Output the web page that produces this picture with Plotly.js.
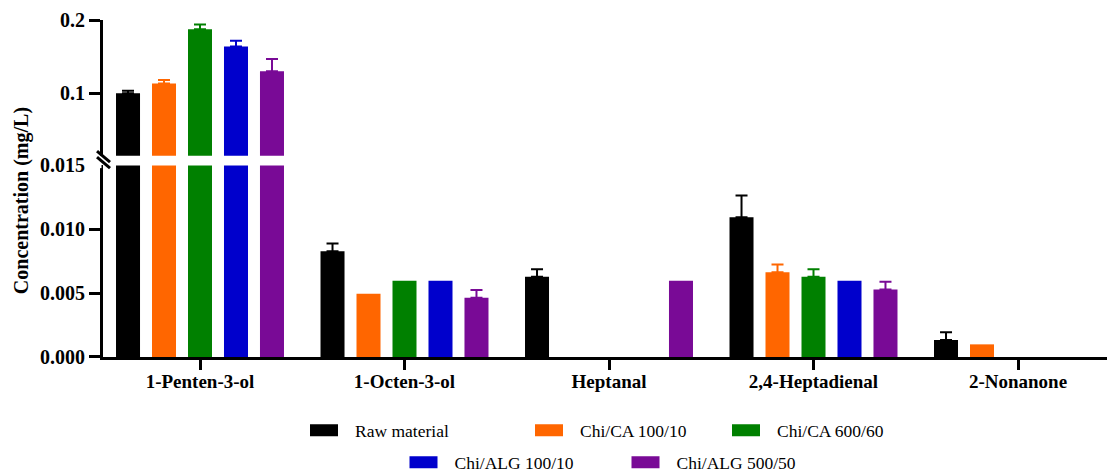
<!DOCTYPE html>
<html>
<head>
<meta charset="utf-8">
<script src="https://cdn.plot.ly/plotly-3.0.1.min.js"></script>
<style>html,body{margin:0;padding:0;background:#fff;}#chart{width:1107px;height:470px;}</style>
</head>
<body>
<div id="chart"></div>
<script>
// ---- data ----
const categories = ['1-Penten-3-ol', '1-Octen-3-ol', 'Heptanal', '2,4-Heptadienal', '2-Nonanone'];
const seriesNames = ['Raw material', 'Chi/CA 100/10', 'Chi/CA 600/60', 'Chi/ALG 100/10', 'Chi/ALG 500/50'];
const rawMaterial = [0.100, 0.00828, 0.00628, 0.01094, 0.00133];
const rawMaterialErr = [0.0036, 0.0006, 0.0006, 0.0017, 0.0006];
const chiCA100 = [0.1136, 0.00495, 0, 0.00664, 0.00099];
const chiCA100Err = [0.0045, null, null, 0.0006, null];
const chiCA600 = [0.1873, 0.00597, 0, 0.00628, 0];
const chiCA600Err = [0.0064, null, null, 0.0006, null];
const chiALG100 = [0.164, 0.00597, 0, 0.00597, 0];
const chiALG100Err = [0.0077, null, null, null, null];
const chiALG500 = [0.130, 0.00464, 0.00597, 0.00529, 0];
const chiALG500Err = [0.0168, 0.0006, null, 0.0006, null];
const lowerTicks = [0, 0.005, 0.010, 0.015];
const upperTicks = [0.1, 0.2];

// ---- style ----
const colors = ['#000000', '#FF6600', '#008000', '#0000CC', '#790A96'];
const values = [rawMaterial, chiCA100, chiCA600, chiALG100, chiALG500];
const errors = [rawMaterialErr, chiCA100Err, chiCA600Err, chiALG100Err, chiALG500Err];
const FONT = 'Liberation Serif, Times New Roman, serif';

// pixel -> paper helpers (plot area 103..1107 x, 20..356.7 y)
const L = 103, R = 1107, T = 20, B = 356.7;
const fx = p => (p - L) / (R - L);
const fy = p => (B - p) / (B - T);

const traces = [];
values.forEach((v, i) => {
  const up = errors[i].map(e => (e == null ? NaN : e));
  const down = errors[i].map(e => (e == null ? NaN : 0));
  ['y', 'y2'].forEach((ax, k) => {
    traces.push({
      type: 'bar',
      x: categories,
      y: v,
      xaxis: 'x',
      yaxis: ax,
      name: seriesNames[i],
      legend: i === 0 ? 'legend' : 'legend' + (i + 1),
      showlegend: k === 0,
      marker: {color: colors[i], line: {width: 0}},
      error_y: {type: 'data', symmetric: false, array: up, arrayminus: down,
                color: colors[i], thickness: 2, width: 6},
      hoverinfo: 'x+y'
    });
  });
});

const tickFont = {family: FONT, size: 20, color: '#000', weight: 'bold'};
const legBase = {orientation: 'h', xanchor: 'left', yanchor: 'middle', bgcolor: 'rgba(0,0,0,0)',
  font: {family: FONT, size: 17.5, color: '#000'}, itemwidth: 52, borderwidth: 0};

const layout = {
  width: 1107, height: 470,
  margin: {l: L, r: 1107 - R, t: T, b: 470 - B, autoexpand: false},
  paper_bgcolor: '#fff', plot_bgcolor: '#fff',
  barmode: 'group', bargap: 0.12, bargroupgap: 0.333,
  font: {family: FONT, color: '#000'},
  xaxis: {type: 'category', range: [(L - 200) / 204.5, (R - 200) / 204.5], anchor: 'y',
    showline: true, linewidth: 3, linecolor: '#000', ticks: 'outside', ticklen: 10, tickwidth: 3, tickcolor: '#000',
    ticklabelstandoff: -5,
    tickfont: {family: FONT, size: 19, color: '#000', weight: 'bold'}, showgrid: false, zeroline: false, fixedrange: true},
  yaxis: {domain: [0, fy(165.3)], range: [0, 0.015], anchor: 'x', tickvals: lowerTicks, tickformat: '.3f',
    showline: true, linewidth: 3, linecolor: '#000', ticks: 'outside', ticklen: 11, tickwidth: 3, tickcolor: '#000',
    tickfont: tickFont, showgrid: false, zeroline: false, fixedrange: true},
  yaxis2: {domain: [fy(155.6), 1], range: [0.015, 0.2], anchor: 'x', tickvals: upperTicks, tickformat: '.1f',
    showline: true, linewidth: 3, linecolor: '#000', ticks: 'outside', ticklen: 11, tickwidth: 3, tickcolor: '#000',
    tickfont: tickFont, showgrid: false, zeroline: false, fixedrange: true},
  annotations: [{text: 'Concentration (mg/L)', xref: 'paper', yref: 'paper', x: fx(21), y: fy(201),
    xanchor: 'center', yanchor: 'middle', textangle: -90, showarrow: false,
    font: {family: FONT, size: 20, color: '#000', weight: 'bold'}}],
  shapes: [
    {type: 'rect', layer: 'above', xref: 'paper', yref: 'paper', x0: fx(89), y0: fy(163), x1: fx(101.5), y1: fy(168),
      line: {width: 0}, fillcolor: '#fff'},
    {type: 'line', layer: 'above', xref: 'paper', yref: 'paper', x0: fx(97), y0: fy(151), x1: fx(110), y1: fy(162), line: {color: '#000', width: 3}},
    {type: 'line', layer: 'above', xref: 'paper', yref: 'paper', x0: fx(97), y0: fy(157), x1: fx(110), y1: fy(168), line: {color: '#000', width: 3}}
  ],
  legend: Object.assign({}, legBase, {x: fx(293), y: fy(430)}),
  legend2: Object.assign({}, legBase, {x: fx(518), y: fy(430)}),
  legend3: Object.assign({}, legBase, {x: fx(715), y: fy(430)}),
  legend4: Object.assign({}, legBase, {x: fx(392.5), y: fy(462)}),
  legend5: Object.assign({}, legBase, {x: fx(614.5), y: fy(462)}),
  showlegend: true
};

Plotly.newPlot('chart', traces, layout, {displayModeBar: false, staticPlot: true}).then(gd => {
  gd.querySelectorAll('g.legendpoints path').forEach(p => p.setAttribute('d', 'M14,6H-14V-6H14Z'));
});
</script>
</body>
</html>
